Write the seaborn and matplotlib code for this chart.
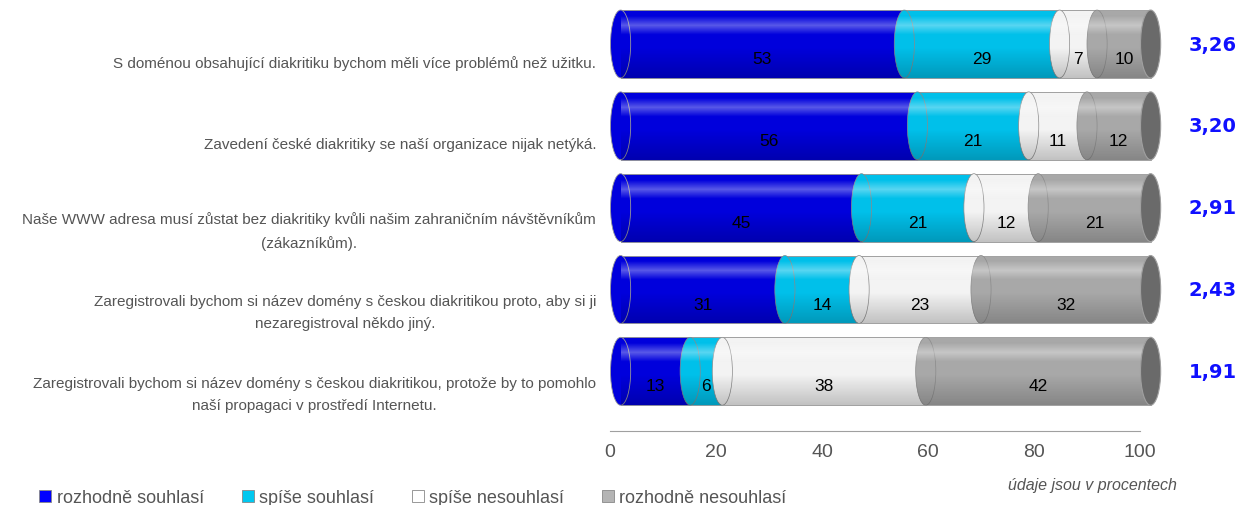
import numpy as np
import pandas as pd
import seaborn as sns
import matplotlib.pyplot as plt
import matplotlib.transforms as mtransforms
from matplotlib.patches import Ellipse
from matplotlib.lines import Line2D

# data
statements = [
    "S doménou obsahující diakritiku bychom měli více problémů než užitku.",
    "Zavedení české diakritiky se naší organizace nijak netýká.",
    "Naše WWW adresa musí zůstat bez diakritiky kvůli našim zahraničním návštěvníkům\n(zákazníkům).",
    "Zaregistrovali bychom si název domény s českou diakritikou proto, aby si ji\nnezaregistroval někdo jiný.",
    "Zaregistrovali bychom si název domény s českou diakritikou, protože by to pomohlo\nnaší propagaci v prostředí Internetu.",
]
levels = ["rozhodně souhlasí", "spíše souhlasí", "spíše nesouhlasí", "rozhodně nesouhlasí"]
strongly_agree = [53, 56, 45, 31, 13]
agree = [29, 21, 21, 14, 6]
disagree = [7, 11, 12, 23, 38]
strongly_disagree = [10, 12, 21, 32, 42]
scores = ["3,26", "3,20", "2,91", "2,43", "1,91"]

colors = ["#0000dc", "#00c0ea", "#f3f3f3", "#a8a8a8"]
cap_color = "#6a6a6a"
font = ["Liberation Sans", "DejaVu Sans"]

vals = np.array([strongly_agree, agree, disagree, strongly_disagree], dtype=float)
pct = vals / vals.sum(axis=0) * 100          # bars are scaled to 100 %
cum = np.cumsum(pct, axis=0)

sns.set_style("white")
plt.rcParams["font.family"] = font
fig = plt.figure(figsize=(12.39, 5.06), dpi=100)
ax = fig.add_axes([610 / 1239, 1 - 432 / 506, 530 / 1239, 432 / 506])

shift = 2.0      # 3d depth offset of the cylinders
bh = 0.83
ew = 3.8         # ellipse width in data units

df = pd.DataFrame({"statement": statements})
for k in range(3, -1, -1):
    df["w"] = cum[k]
    sns.barplot(data=df, x="w", y="statement", orient="h", left=shift,
                color=colors[k], saturation=1, width=bh, edgecolor="#9a9a9a",
                linewidth=0.6, ax=ax, zorder=2)
for p in ax.patches:
    p.set_clip_on(False)

for i in range(len(statements)):
    # left rounded end
    ax.add_patch(Ellipse((shift, i), ew, bh, facecolor=colors[0],
                         edgecolor="#9a9a9a", lw=0.6, zorder=3, clip_on=False))
    # segment borders seen as ellipses
    for k in range(3):
        ax.add_patch(Ellipse((shift + cum[k, i], i), ew, bh, facecolor=colors[k + 1],
                             edgecolor="#8a8a8a", lw=0.5, zorder=3, clip_on=False))
    # cylinder shading
    grad = np.zeros((60, 1, 4))
    t = np.linspace(0, 1, 60)
    hl = np.clip(0.35 - 2.5 * np.abs(t - 0.22), 0, None)
    dk = np.clip((t - 0.55) * 0.45, 0, None)
    grad[:, 0, :3] = np.where(hl[:, None] > 0, 1.0, 0.0)
    grad[:, 0, 3] = hl + dk
    ax.imshow(grad, extent=(shift, shift + 100, i + bh / 2, i - bh / 2),
              aspect="auto", zorder=4, interpolation="bilinear", clip_on=False)
    # end cap
    ax.add_patch(Ellipse((shift + 100, i), ew, bh, facecolor=cap_color,
                         edgecolor="#a0a0a0", lw=0.8, zorder=5, clip_on=False))
    # value labels
    for k in range(4):
        start = shift + (cum[k - 1, i] if k else 0)
        ax.text(start + pct[k, i] / 2, i + 0.18, f"{int(vals[k, i])}", ha="center",
                va="center", fontsize=12.5, color="black", zorder=6)

# mean score on the right, x in figure coords
score_tr = mtransforms.blended_transform_factory(fig.transFigure, ax.transData)
for i, sc in enumerate(scores):
    ax.text(1237 / 1239, i, sc, transform=score_tr, ha="right", va="center",
            fontsize=14, fontweight="bold", color="#1010ff", family="DejaVu Sans",
            clip_on=False)

ax.set_xlim(0, 100)
ax.set_ylim(4.73, -0.55)
ax.set_xticks([0, 20, 40, 60, 80, 100])
ax.set_xlabel("")
ax.set_ylabel("")
ax.set_yticks(range(len(statements)))
ax.set_yticklabels(statements, fontsize=11, color="#555555",
                   multialignment="center", linespacing=1.75)
ax.tick_params(axis="y", length=0, pad=10)
ax.tick_params(axis="x", direction="in", length=6, color="#a0a0a0", pad=9,
               labelsize=14, labelcolor="#555555")
# the statements sit a bit lower than the bar centres
down = mtransforms.ScaledTranslation(0, -0.17, fig.dpi_scale_trans)
for lab in ax.get_yticklabels():
    lab.set_transform(lab.get_transform() + down)
for s in ["top", "right", "left"]:
    ax.spines[s].set_visible(False)
ax.spines["bottom"].set_color("#a0a0a0")
ax.set_facecolor("none")
ax.grid(False)

handles = [Line2D([], [], marker="s", linestyle="", markersize=9,
                  markerfacecolor=c, markeredgecolor="#888888", markeredgewidth=0.6)
           for c in ["#0000ff", "#00c8f0", "#ffffff", "#b4b4b4"]]
fig.legend(handles, levels, loc="lower left", bbox_to_anchor=(22 / 1239, -0.035),
           ncol=4, frameon=False, handlelength=0.8, handletextpad=0.25,
           columnspacing=2.0, prop={"size": 13}, labelcolor="#555555")
fig.text(1092 / 1239, 1 - 486 / 506, "údaje jsou v procentech", ha="center", va="center",
         fontsize=11.5, style="italic", color="#555555")

fig.savefig("out.png", dpi=100)
